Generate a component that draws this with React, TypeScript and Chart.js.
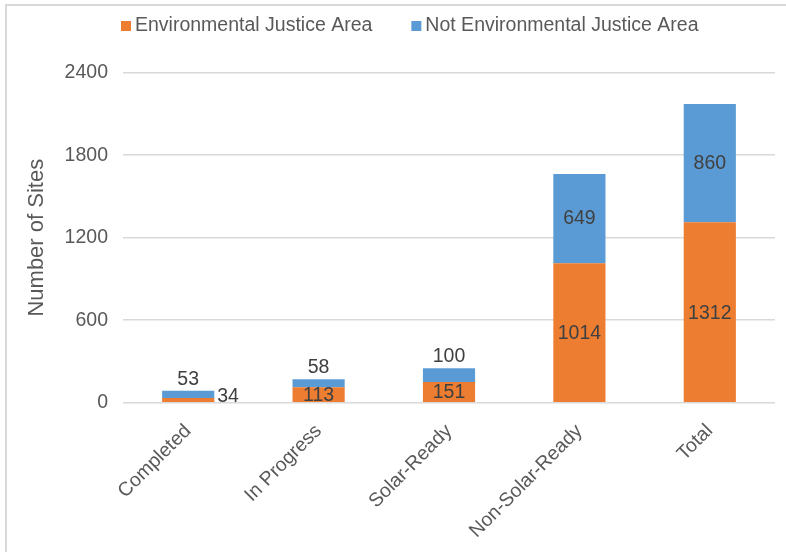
import { useEffect, useRef } from "react";
import { Chart, registerables } from "chart.js";

Chart.register(...registerables);

const categories = ["Completed", "In Progress", "Solar-Ready", "Non-Solar-Ready", "Total"];
const ejValues = [34, 113, 151, 1014, 1312];
const notEjValues = [53, 58, 100, 649, 860];
const seriesNames = ["Environmental Justice Area", "Not Environmental Justice Area"];
const yTickValues = [0, 600, 1200, 1800, 2400];
const yTitle = "Number of Sites";

const FONT = "'Liberation Sans', Arial, Helvetica, sans-serif";
const ORANGE = "#ED7D31";
const BLUE = "#5B9BD5";
const GRID = "#d9d9d9";
const TEXT = "#595959";
const LABEL = "#404040";

const legendPlugin = {
  id: "customLegend",
  afterDraw(chart: any) {
    const ctx = chart.ctx;
    ctx.save();
    ctx.font = `19.5px ${FONT}`;
    ctx.textBaseline = "middle";
    ctx.textAlign = "left";
    let x = 121;
    const y = 26;
    chart.data.datasets.forEach((ds: any) => {
      ctx.fillStyle = ds.backgroundColor;
      ctx.fillRect(x, y - 5, 10, 10);
      x += 14;
      ctx.fillStyle = TEXT;
      ctx.fillText(ds.label, x, y);
      x += ctx.measureText(ds.label).width + 39;
    });
    ctx.restore();
  },
};

const dataLabelPlugin = {
  id: "dataLabels",
  afterDatasetsDraw(chart: any) {
    const ctx = chart.ctx;
    ctx.save();
    ctx.font = `19.5px ${FONT}`;
    ctx.fillStyle = LABEL;
    chart.data.datasets.forEach((ds: any, di: number) => {
      const meta = chart.getDatasetMeta(di);
      meta.data.forEach((bar: any, i: number) => {
        const { x, y, base, width } = bar.getProps(["x", "y", "base", "width"], true);
        const h = base - y;
        const text = String(ds.data[i]);
        const mid = (y + base) / 2;
        if (di === 0) {
          if (h < 10) {
            ctx.textAlign = "left";
            ctx.textBaseline = "middle";
            ctx.fillText(text, x + width / 2 + 3, mid - 3);
          } else {
            ctx.textAlign = "center";
            ctx.textBaseline = "middle";
            ctx.fillText(text, x, mid + 1);
          }
        } else {
          if (h < 30) {
            ctx.textAlign = "center";
            ctx.textBaseline = "alphabetic";
            ctx.fillText(text, x, y - 6);
          } else {
            ctx.textAlign = "center";
            ctx.textBaseline = "middle";
            ctx.fillText(text, x, mid);
          }
        }
      });
    });
    ctx.restore();
  },
};

export default function App() {
  const ref = useRef<HTMLCanvasElement | null>(null);

  useEffect(() => {
    if (!ref.current) return;
    const chart = new Chart(ref.current, {
      type: "bar",
      data: {
        labels: categories,
        datasets: [
          { label: seriesNames[0], data: ejValues, backgroundColor: ORANGE, borderWidth: 0 },
          { label: seriesNames[1], data: notEjValues, backgroundColor: BLUE, borderWidth: 0 },
        ],
      },
      options: {
        responsive: false,
        animation: false,
        layout: { padding: { left: 0, right: 11, top: 72.7, bottom: 0 } },
        datasets: { bar: { categoryPercentage: 1, barPercentage: 0.4 } },
        plugins: {
          legend: { display: false },
          tooltip: { enabled: false },
        },
        scales: {
          x: {
            stacked: true,
            grid: { display: false, drawTicks: false },
            border: { display: false },
            ticks: {
              color: TEXT,
              font: { family: FONT, size: 19.5 },
              maxRotation: 45,
              minRotation: 45,
              padding: 17,
              autoSkip: false,
            },
            afterFit(scale: any) {
              scale.height = 149.3;
            },
          },
          y: {
            stacked: true,
            min: 0,
            max: 2400,
            afterBuildTicks(scale: any) {
              scale.ticks = yTickValues.map((v) => ({ value: v }));
            },
            grid: { color: GRID, lineWidth: 1.5, drawTicks: false },
            border: { display: false },
            ticks: {
              color: TEXT,
              font: { family: FONT, size: 19.5 },
              padding: 15,
              callback: (v: any) => String(v),
            },
            title: {
              display: true,
              text: yTitle,
              color: TEXT,
              font: { family: FONT, size: 22 },
              padding: { top: 24, bottom: 0 },
            },
            afterFit(scale: any) {
              scale.width = 123;
            },
          },
        },
      },
      plugins: [legendPlugin, dataLabelPlugin],
    });
    return () => chart.destroy();
  }, []);

  return (
    <div
      style={{
        position: "absolute",
        left: 0,
        top: 0,
        width: 786,
        height: 552,
        overflow: "hidden",
        background: "#ffffff",
      }}
    >
      <div
        style={{
          position: "absolute",
          left: 5,
          top: 4,
          width: 900,
          height: 700,
          border: `2px solid ${GRID}`,
          boxSizing: "border-box",
        }}
      />
      <canvas
        ref={ref}
        width={786}
        height={552}
        style={{ position: "absolute", left: 0, top: 0, width: 786, height: 552 }}
      />
    </div>
  );
}
